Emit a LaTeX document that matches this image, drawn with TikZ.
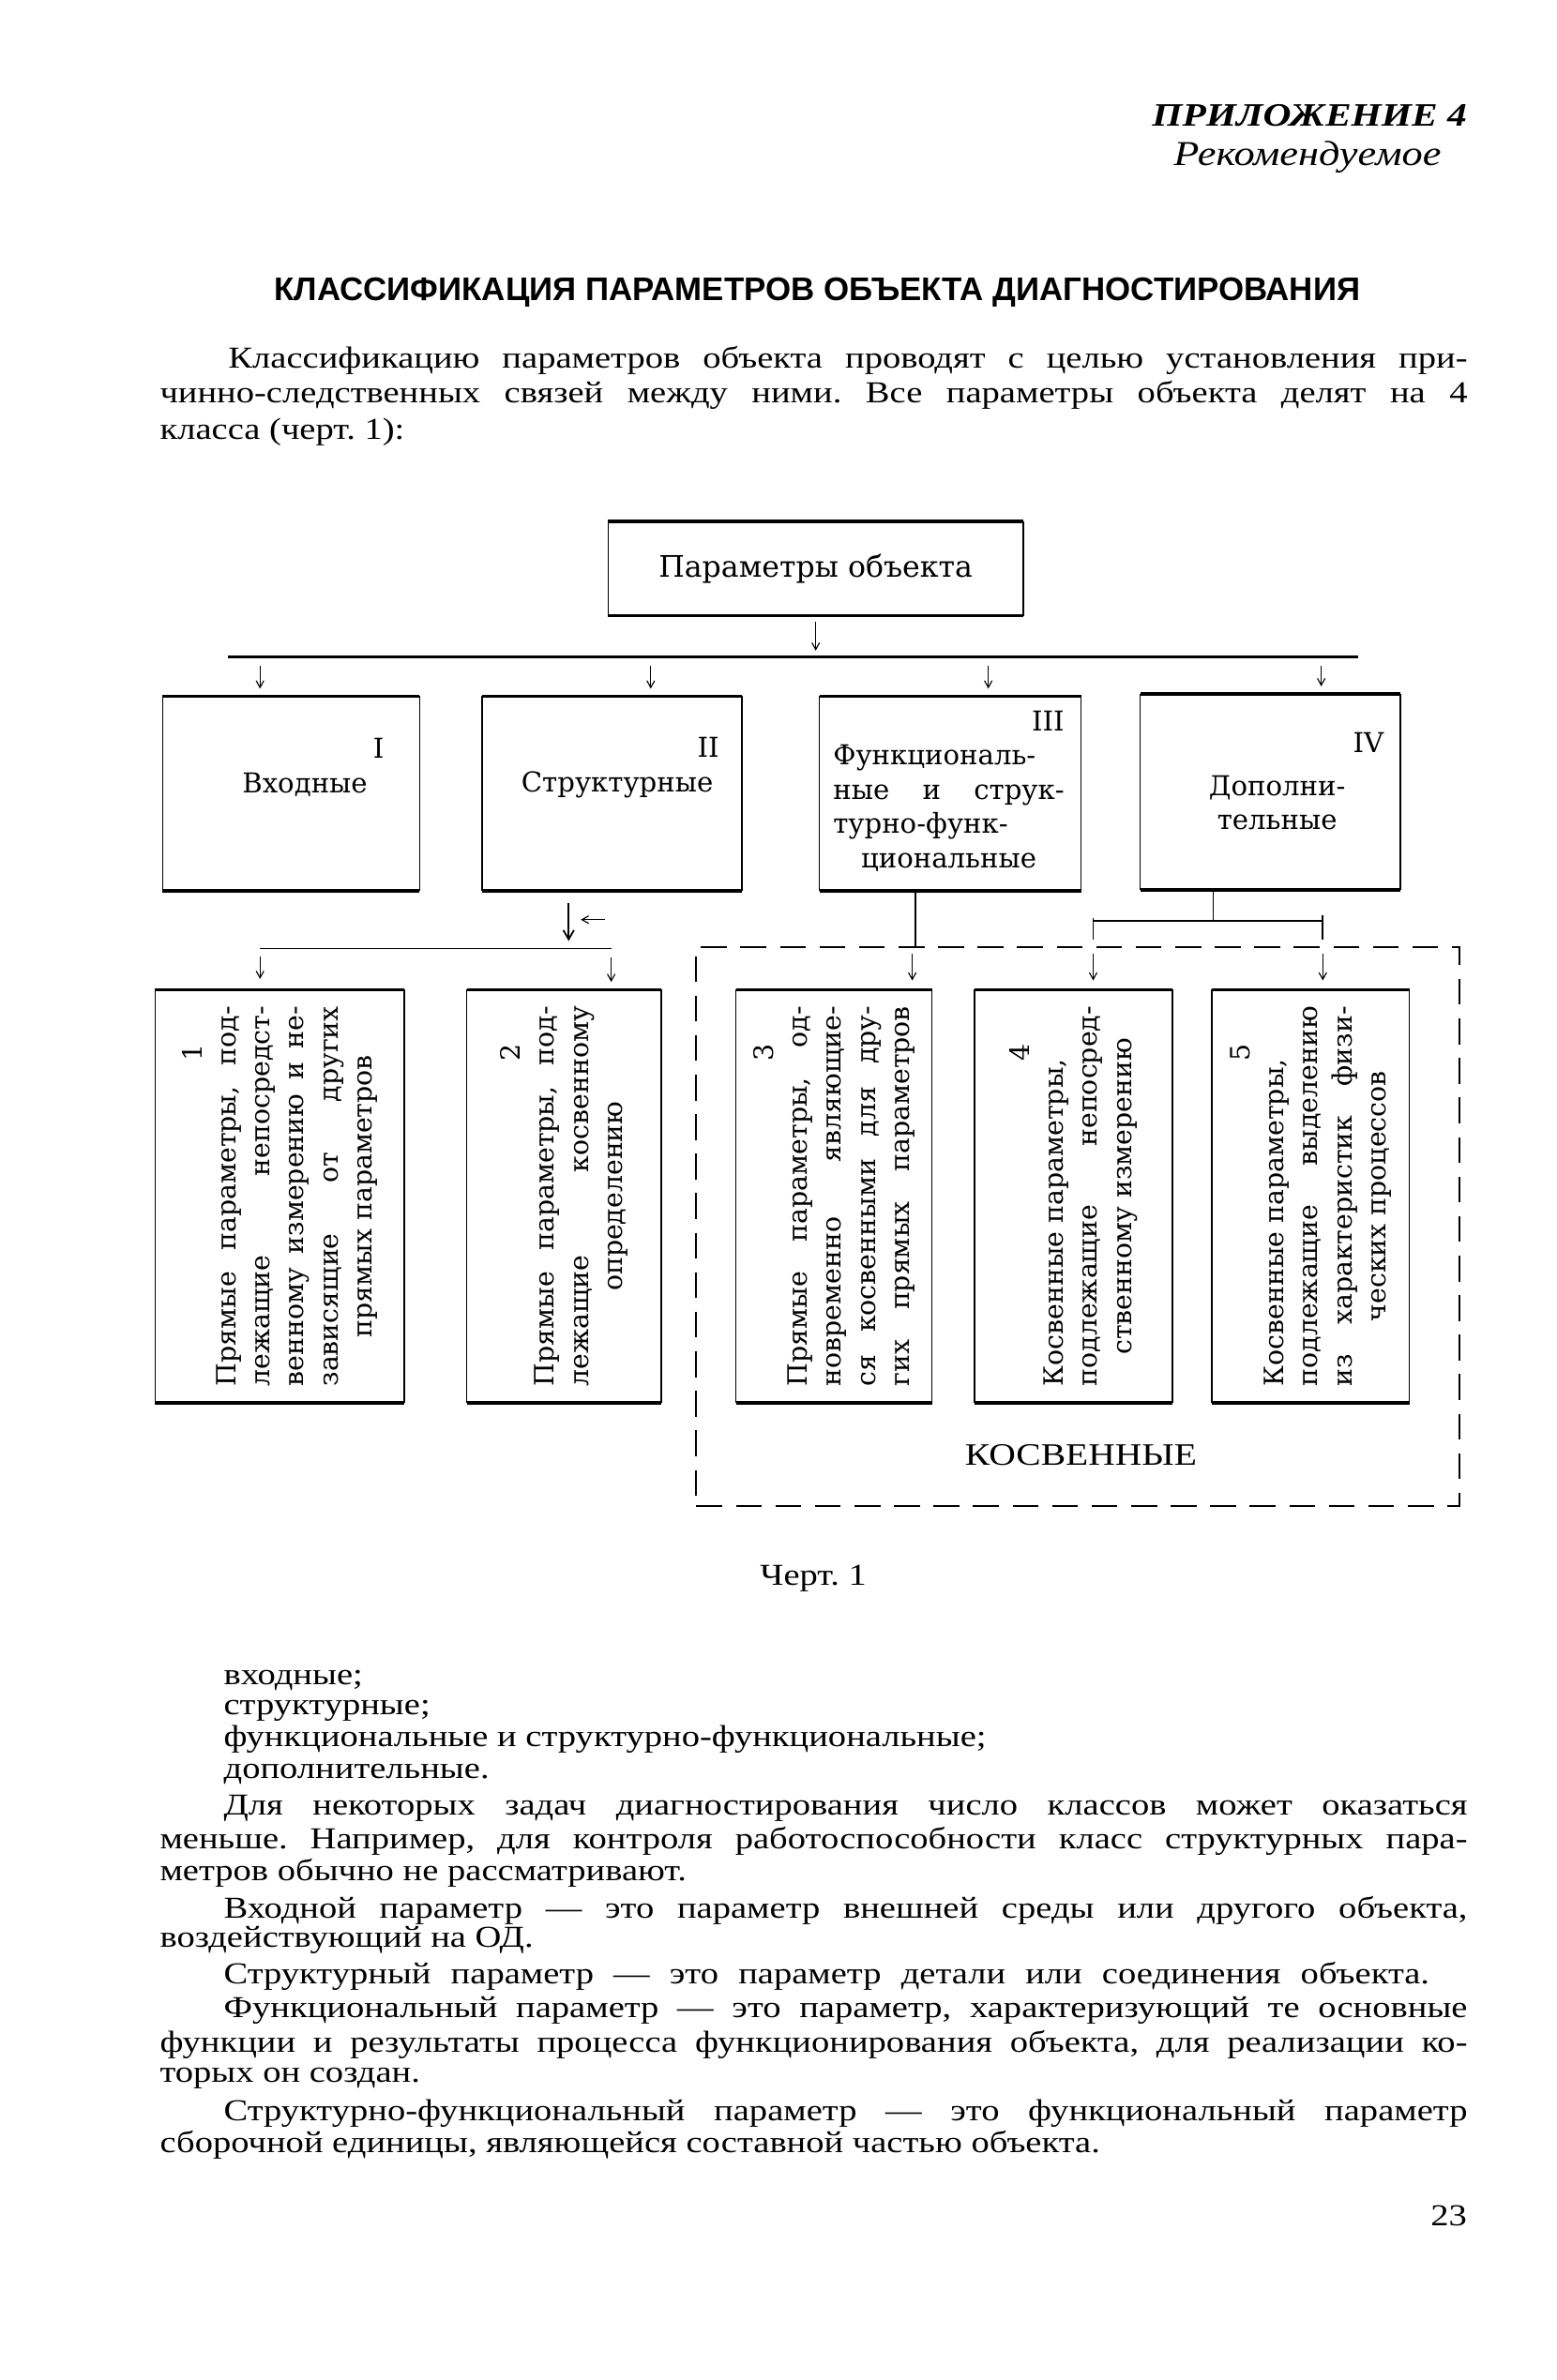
\documentclass[tikz,border=0pt]{standalone}
\usepackage{fontspec}
\setmainfont{Liberation Serif}[FakeStretch=1.19]
\newfontfamily\boxfont{DejaVu Serif}
\newfontfamily\headfont{Liberation Sans}
\usepackage{graphicx}
\usetikzlibrary{arrows.meta}
\frenchspacing

\newcommand\bodysz{\fontsize{20pt}{23pt}\selectfont}
\newcommand\jline[1]{\makebox[\linewidth][s]{#1}}
\newcommand\cenline[1]{\makebox[\linewidth][c]{#1}}
\newcommand\vtext[1]{\rotatebox{90}{\parbox{250pt}{\boxfont\fontsize{17.5pt}{22.4pt}\selectfont #1}}}
\newcommand\htext[2]{\parbox{#1}{\boxfont\fontsize{18pt}{22.5pt}\selectfont #2}}

\begin{document}
\begin{tikzpicture}[x=1pt,y=-1pt,
  txt/.style={inner sep=0pt,font=\bodysz},
  box/.style={inner sep=0pt,outer sep=0pt},
  side/.style={line width=0.9pt},
  rim/.style={line width=2.2pt},
  conn/.style={line width=1.1pt},
  bus/.style={line width=1.8pt},
  arr/.style={line width=0.7pt,-{Straight Barb[length=4.5pt,width=5pt]}},
  bigarr/.style={line width=1.1pt,-{Straight Barb[length=6pt,width=7pt]}},
  dashbox/.style={draw,line width=1.2pt,dash pattern=on 17pt off 9pt,inner sep=0pt}]
\fill[white] (0,0) rectangle (1024,1565.7); % page
% heading
\node[txt,anchor=base east,font=\fontsize{21.5pt}{24pt}\selectfont\bfseries\itshape] (app) at (965,83) {ПРИЛОЖЕНИЕ 4};
\node[txt,anchor=base east,font=\fontsize{23pt}{26pt}\selectfont\itshape] (rec) at (948,109) {Рекомендуемое};
\node[txt,anchor=base,font=\headfont\bfseries\fontsize{21.5pt}{24pt}\selectfont] (title) at (537.5,198) {КЛАССИФИКАЦИЯ ПАРАМЕТРОВ ОБЪЕКТА ДИАГНОСТИРОВАНИЯ};
% justified lines
\foreach \xx/\yy/\ww/\lin in {
  150/242/815/{Классификацию параметров объекта проводят с целью установления при-},
  105/265/860/{чинно-следственных связей между ними. Все параметры объекта делят на 4},
  147/1194/818/{Для некоторых задач диагностирования число классов может оказаться},
  105/1216/860/{меньше. Например, для контроля работоспособности класс структурных пара-},
  147/1262/818/{Входной параметр — это параметр внешней среды или другого объекта,},
  147/1305/793/{Структурный параметр — это параметр детали или соединения объекта.},
  147/1327/818/{Функциональный параметр — это параметр, характеризующий те основные},
  105/1350/860/{функции и результаты процесса функционирования объекта, для реализации ко-},
  147/1395/818/{Структурно-функциональный параметр — это функциональный параметр}}
  \node[txt,anchor=base west] (j\yy) at (\xx,\yy) {\makebox[\ww pt][s]{\lin}};
% short lines
\foreach \xx/\yy/\lin in {
  105/289/{класса (черт. 1):},
  147/1108/{входные;},
  147/1128/{структурные;},
  147/1149/{функциональные и структурно-функциональные;},
  147/1170/{дополнительные.},
  105/1237/{метров обычно не рассматривают.},
  105/1281/{воздействующий на ОД.},
  105/1370/{торых он создан.},
  105/1416/{сборочной единицы, являющейся составной частью объекта.}}
  \node[txt,anchor=base west] (r\yy) at (\xx,\yy) {\lin};
\node[txt,anchor=base] (cap) at (535,1043) {Черт. 1};
\node[txt,anchor=base east] (page) at (965,1464) {23};

% boxes
\node[box,minimum width=273pt,minimum height=62pt,font=\boxfont\fontsize{19.5pt}{22pt}\selectfont] (top) at (536.5,374) {Параметры объекта};
\node[box,minimum width=169pt,minimum height=128pt] (I) at (191.5,522) {};
\node[box,minimum width=171pt,minimum height=128pt] (II) at (402.5,522) {};
\node[box,minimum width=172pt,minimum height=128pt] (III) at (625,522) {};
\node[box,minimum width=171pt,minimum height=129pt] (IV) at (835.5,521) {};
\node[box] (tI) at ([xshift=9pt,yshift=17pt]I.center) {\htext{120pt}{\hfill I\hspace*{8pt}\\ \cenline{Входные}}};
\node[box] (tII) at ([xshift=3.5pt,yshift=17pt]II.center) {\htext{140pt}{\hfill II\hspace*{3pt}\\ \cenline{Структурные}}};
\node[box] (tIII) at ([xshift=-1pt,yshift=1.5pt]III.center) {\htext{152pt}{\hfill III\\ \jline{Функциональ-}\\ \jline{ные и струк-}\\ \jline{турно-функ-}\\ \cenline{циональные}}};
\node[box] (tIV) at ([xshift=4.5pt,yshift=7pt]IV.center) {\htext{140pt}{\hfill IV\\[6pt] \cenline{Дополни-}\\ \cenline{тельные}}};

\node[dashbox,minimum width=502pt,minimum height=368pt] (kos) at (709,807) {};
\node[txt,font=\fontsize{20.5pt}{23pt}\selectfont] (kosl) at (711,957) {КОСВЕННЫЕ};

\node[box,minimum width=164pt,minimum height=272pt] (p1) at (184,787) {\vtext{\hfill 1\hspace*{25pt}\\
  \jline{Прямые параметры, под-}\\ \jline{лежащие непосредст-}\\ \jline{венному измерению и не-}\\
  \jline{зависящие от других}\\ \cenline{прямых параметров}}};
\node[box,minimum width=128pt,minimum height=272pt] (p2) at (371,787) {\vtext{\hfill 2\hspace*{25pt}\\
  \jline{Прямые параметры, под-}\\ \jline{лежащие косвенному}\\ \cenline{определению}}};
\node[box,minimum width=129pt,minimum height=272pt] (p3) at (548.5,787) {\vtext{\hfill 3\hspace*{25pt}\\
  \jline{Прямые параметры, од-}\\ \jline{новременно являющие-}\\ \jline{ся косвенными для дру-}\\
  \jline{гих прямых параметров}}};
\node[box,minimum width=130pt,minimum height=272pt] (p4) at (706,787) {\vtext{\hfill 4\hspace*{25pt}\\
  Косвенные параметры,\\ \jline{подлежащие непосред-}\\ \cenline{ственному измерению}}};
\node[box,minimum width=130pt,minimum height=272pt] (p5) at (862,787) {\vtext{\hfill 5\hspace*{25pt}\\
  Косвенные параметры,\\ \jline{подлежащие выделению}\\ \jline{из характеристик физи-}\\
  \cenline{ческих процессов}}};

% thin sides, heavy top and bottom
\foreach \b in {top,I,II,III,IV,p1,p2,p3,p4,p5}{
  \draw[side] (\b.north west) -- (\b.south west) (\b.north east) -- (\b.south east);
  \draw[rim] (\b.north west) -- (\b.north east) (\b.south west) -- (\b.south east);
}

% object -> four classes
\coordinate (busL) at (150,432);
\coordinate (busR) at (893,432);
\draw[bus] (busL) -- (busR);
\draw[arr,shorten <=4pt,shorten >=4pt] (top.south) -- (top.south |- busL);
\foreach \b/\s in {I/-20.5,II/25.5,III/25,IV/33.5}
  \draw[arr,shorten <=6pt,shorten >=5pt] ([xshift=\s pt]\b.north |- busL) -- ([xshift=\s pt]\b.north);

% II -> 1, 2
\coordinate (subL) at (171,624);
\coordinate (subR) at (402,624);
\draw[conn] (subL) -- (subR);
\draw[bigarr,shorten <=8pt,shorten >=5pt] ([xshift=-28.5pt]II.south) -- ([xshift=-28.5pt]II.south |- subL);
\draw[arr] ([xshift=-4.5pt,yshift=-19pt]II.south) -- ([xshift=-20.5pt,yshift=-19pt]II.south);
\draw[arr,shorten <=5pt,shorten >=7pt] (subL) -- (subL |- p1.north);
\draw[arr,shorten <=6pt,shorten >=5pt] (subR) -- (subR |- p2.north);

% III -> 3
\draw[conn] ([xshift=-23pt]III.south) -- ([xshift=-23pt]III.south |- kos.north);
\draw[arr,shorten <=5pt,shorten >=6pt] ([xshift=51.5pt]p3.north |- kos.north) -- ([xshift=51.5pt]p3.north);

% IV -> 4, 5
\coordinate (fork) at ([xshift=-37.5pt,yshift=-20pt]IV.south);
\coordinate (fL) at (719,606);
\coordinate (fR) at (870,606);
\draw[conn] ([xshift=-37.5pt]IV.south) -- (fork);
\draw[conn] (fL) -- (fR);
\draw[conn,shorten >=4pt] ([yshift=2pt]fL) -- (fL |- kos.north);
\draw[conn,shorten >=4pt] ([yshift=4pt]fR) -- (fR |- kos.north);
\draw[arr,shorten <=5pt,shorten >=6pt] (fL |- kos.north) -- (fL |- p4.north);
\draw[arr,shorten <=5pt,shorten >=6pt] (fR |- kos.north) -- (fR |- p5.north);
\end{tikzpicture}
\end{document}
